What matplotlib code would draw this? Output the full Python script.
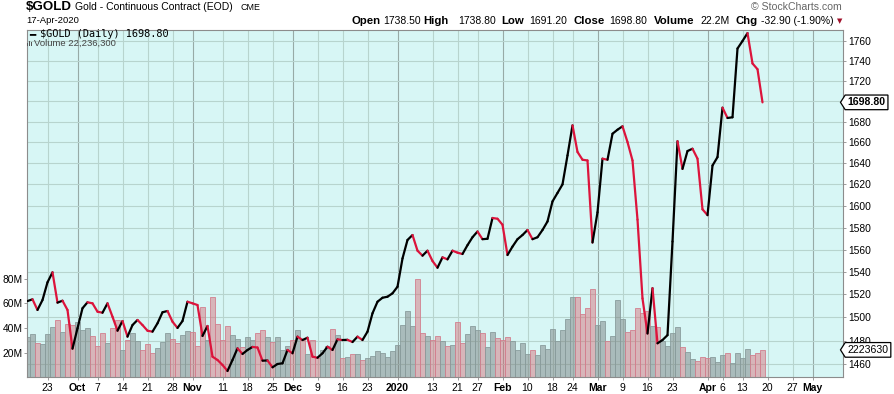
import numpy as np
import pandas as pd
import matplotlib
matplotlib.use("Agg")
import matplotlib.pyplot as plt
from matplotlib.collections import LineCollection
from matplotlib.patches import Rectangle
from matplotlib.path import Path
from matplotlib.transforms import blended_transform_factory
from matplotlib.ticker import NullLocator

plt.rcParams['font.family'] = ['Liberation Sans', 'DejaVu Sans']

# ---------------- data ----------------
symbol = "$GOLD"
title = "Gold - Continuous Contract (EOD)"
exchange = "CME"
as_of = "17-Apr-2020"
start_date = "2019-09-17"
holidays = ["2019-11-28", "2019-12-25", "2020-01-01", "2020-01-20",
            "2020-02-17", "2020-04-10"]

close = [
    1514.2, 1515.7, 1506.4, 1515.1, 1530.7, 1539.6, 1512.8, 1514.5, 1506.4, 1473.0,
    1490.5, 1507.9, 1513.1, 1512.2, 1504.9, 1504.0, 1512.2, 1500.5, 1488.4, 1496.8,
    1483.3, 1493.3, 1497.7, 1493.3, 1488.4, 1487.6, 1494.8, 1504.4, 1505.5, 1496.2,
    1490.8, 1496.8, 1513.6, 1512.2, 1510.7, 1483.9, 1492.5, 1466.2, 1463.4, 1459.2,
    1454.1, 1463.4, 1473.3, 1468.5, 1471.9, 1474.5, 1474.0, 1462.8, 1463.0, 1457.2,
    1460.0, 1460.6, 1471.9, 1469.1, 1483.3, 1480.4, 1482.4, 1466.2, 1465.3, 1469.1,
    1474.7, 1471.9, 1481.0, 1480.4, 1480.6, 1478.7, 1483.3, 1480.4, 1487.6, 1503.5,
    1513.6, 1517.1, 1518.0, 1521.0, 1526.8, 1552.0, 1568.7, 1573.2, 1559.0, 1554.5,
    1559.0, 1549.7, 1543.7, 1553.0, 1551.2, 1559.0, 1557.2, 1556.0, 1564.0, 1571.2,
    1576.4, 1569.4, 1569.8, 1588.8, 1588.1, 1582.6, 1555.1, 1562.7, 1569.4, 1573.2,
    1577.8, 1569.4, 1571.2, 1577.8, 1585.6, 1604.1, 1612.0, 1620.0, 1647.4, 1676.3,
    1650.7, 1643.3, 1642.6, 1566.4, 1594.0, 1644.3, 1643.3, 1668.2, 1672.1, 1675.4,
    1660.2, 1642.6, 1587.3, 1516.5, 1486.0, 1525.5, 1477.6, 1480.4, 1484.6, 1567.3,
    1661.0, 1634.6, 1651.6, 1653.8, 1644.3, 1596.8, 1591.4, 1637.8, 1645.8, 1693.6,
    1683.5, 1684.2, 1752.6, 1760.2, 1768.3, 1737.5, 1731.7, 1698.8,
]

volume_m = [
    32.6, 35.3, 27.7, 26.9, 35.3, 40.7, 46.6, 36.9, 43.4, 42.6,
    44.5, 38.5, 39.9, 33.7, 25.5, 35.8, 27.7, 39.9, 46.6, 22.3,
    30.4, 36.1, 29.6, 22.3, 27.2, 19.6, 23.9, 28.8, 36.1, 31.2,
    27.7, 34.2, 37.7, 36.9, 25.5, 56.9, 30.4, 65.3, 43.4, 30.4,
    41.5, 34.5, 31.0, 24.5, 32.6, 30.4, 36.2, 38.5, 33.0, 28.8,
    33.0, 22.3, 25.5, 30.4, 38.5, 30.4, 19.0, 30.4, 16.0, 22.3,
    25.0, 39.1, 34.5, 15.6, 16.6, 19.1, 19.0, 14.2, 16.0, 17.6,
    21.7, 20.1, 16.8, 21.7, 26.5, 42.6, 54.0, 41.8, 79.6, 36.0,
    33.7, 30.4, 33.7, 29.7, 25.5, 26.4, 44.9, 27.7, 35.1, 41.8,
    38.5, 35.8, 24.5, 36.7, 31.8, 30.4, 32.6, 29.6, 22.3, 27.7,
    18.9, 22.3, 18.3, 26.2, 23.0, 39.1, 29.6, 38.3, 47.3, 65.0,
    65.0, 51.4, 56.1, 71.5, 42.6, 45.3, 29.6, 33.7, 62.7, 47.3,
    36.9, 38.5, 56.1, 52.5, 53.9, 41.5, 40.8, 29.6, 25.5, 35.8,
    40.7, 24.5, 20.4, 15.0, 13.6, 16.4, 15.5, 16.4, 12.8, 17.7,
    19.6, 12.0, 20.1, 15.5, 22.9, 17.7, 19.6, 22.2,
]

open_price = 1738.50
high_price = 1738.80
low_price = 1691.20
last_close = 1698.80
last_volume = 22236300
change = -32.90
change_pct = -1.90

tick_dates = ["2019-09-23", "2019-10-01", "2019-10-07", "2019-10-14", "2019-10-21",
              "2019-10-28", "2019-11-01", "2019-11-11", "2019-11-18", "2019-11-25",
              "2019-12-02", "2019-12-09", "2019-12-16", "2019-12-23", "2020-01-02",
              "2020-01-13", "2020-01-21", "2020-01-27", "2020-02-03", "2020-02-10",
              "2020-02-18", "2020-02-24", "2020-03-02", "2020-03-09", "2020-03-16",
              "2020-03-23", "2020-04-01", "2020-04-06", "2020-04-13", "2020-04-20",
              "2020-04-27", "2020-05-01"]
tick_labels = ["23", "Oct", "7", "14", "21", "28", "Nov", "11", "18", "25",
               "Dec", "9", "16", "23", "2020", "13", "21", "27", "Feb", "10",
               "18", "24", "Mar", "9", "16", "23", "Apr", "6", "13", "20",
               "27", "May"]
major_labels = ["Oct", "Nov", "Dec", "2020", "Feb", "Mar", "Apr", "May"]

price_ticks = list(range(1460, 1761, 20))
volume_ticks = [20, 40, 60, 80]

# ---------------- style ----------------
BG = "#d7f6f5"
GRID = "#b7d4ce"
GRID_MAJOR = "#97aaa6"
RED = "#dc143c"
UP_FILL = (0.45, 0.46, 0.46, 0.45)
DN_FILL = (0.85, 0.40, 0.44, 0.45)
UP_EDGE = "#8a9d9d"
DN_EDGE = "#d2808f"
SPINE = "#8c8c8c"

W, H = 894, 394
fig = plt.figure(figsize=(W / 100, H / 100), dpi=100)
L, R, T, B = 27, 843, 29.5, 377.3
ax_vol = fig.add_axes([L / W, 1 - B / H, (R - L) / W, (B - T) / H])
ax_vol.set_facecolor(BG)
ax_price = ax_vol.twinx()

# trading-day axis
all_days = pd.bdate_range(start_date, "2020-05-29")
all_days = all_days[~all_days.isin(pd.to_datetime(holidays))]
n = len(close)
x = np.arange(n)
tick_pos = [all_days.get_loc(pd.Timestamp(d)) for d in tick_dates]

ax_vol.set_xlim(-0.1, 163.1)
ax_vol.set_ylim(0, 282)
ax_price.set_yscale("log")
ax_price.set_ylim(1448.8, 1772.0)

# grid (under bars)
for p, lab in zip(tick_pos, tick_labels):
    ax_vol.axvline(p, color=GRID_MAJOR if lab in major_labels else GRID,
                   lw=0.8, zorder=0.5)
htrans = blended_transform_factory(ax_vol.transAxes, ax_price.transData)
for p in price_ticks:
    ax_vol.plot([0, 1], [p, p], transform=htrans, color=GRID, lw=0.8, zorder=0.5)

# volume bars
closes = np.array(close)
up = np.concatenate([[True], closes[1:] >= closes[:-1]])
ax_vol.bar(x, volume_m, width=0.95,
           color=[UP_FILL if u else DN_FILL for u in up],
           edgecolor=[UP_EDGE if u else DN_EDGE for u in up],
           linewidth=0.6, zorder=2)

# price line, coloured by direction
segs = np.stack([np.column_stack([x[:-1], closes[:-1]]),
                 np.column_stack([x[1:], closes[1:]])], axis=1)
seg_cols = ["black" if u else RED for u in up[1:]]
lc = LineCollection(segs, colors=seg_cols, linewidths=1.6,
                    capstyle="round", joinstyle="round", zorder=3)
ax_price.add_collection(lc)

# axes ticks
ax_vol.set_xticks(tick_pos)
ax_vol.set_xticklabels(tick_labels)
for t in ax_vol.get_xticklabels():
    t.set_fontsize(7.5)
    if t.get_text() in major_labels:
        t.set_fontweight("bold")
ax_vol.tick_params(axis="x", length=2, width=0.6, color=SPINE, pad=2)

ax_vol.set_yticks(volume_ticks)
ax_vol.set_yticklabels([f"{v}M" for v in volume_ticks], fontsize=7.4)
ax_vol.tick_params(axis="y", length=2, width=0.6, color=SPINE, pad=1)

# the price tag covers the tick label next to the last close
ax_price.set_yticks(price_ticks)
ax_price.set_yticklabels(["" if abs(p - last_close) < 8 else str(p)
                          for p in price_ticks], fontsize=7.4)
ax_price.yaxis.set_minor_locator(NullLocator())
ax_price.tick_params(axis="y", which="major", length=2.5, width=0.6,
                     color=SPINE, pad=1.5)

for sp in ax_vol.spines.values():
    sp.set_color(SPINE)
    sp.set_linewidth(0.8)
for sp in ax_price.spines.values():
    sp.set_visible(False)


# tag shaped box
def tag_box(x0, y0, width, height, mutation_size):
    pad = 0.22 * mutation_size
    x0, y0 = x0 - pad, y0 - pad
    x1, y1 = x0 + width + 2 * pad, y0 + height + 2 * pad
    h = y1 - y0
    verts = [(x0, y0), (x1, y0), (x1, y1), (x0, y1),
             (x0 - 0.32 * h, (y0 + y1) / 2), (x0, y0), (x0, y0)]
    codes = [Path.MOVETO] + [Path.LINETO] * 5 + [Path.CLOSEPOLY]
    return Path(verts, codes)


tx_axes = (847.5 - L) / (R - L)
ax_price.text(tx_axes, last_close, f"{last_close:.2f}",
              transform=blended_transform_factory(ax_price.transAxes, ax_price.transData),
              ha="left", va="center", fontsize=7.6, fontweight="bold",
              bbox=dict(boxstyle=tag_box, fc="white", ec="black", lw=0.9),
              clip_on=False, zorder=10)
ax_price.text(tx_axes, last_volume / 1e6, f"{last_volume // 10}",
              transform=blended_transform_factory(ax_price.transAxes, ax_vol.transData),
              ha="left", va="center", fontsize=7.6,
              bbox=dict(boxstyle=tag_box, fc="white", ec="black", lw=0.9),
              clip_on=False, zorder=10)

# ---------------- header ----------------
def ft(xp, yp, s, **kw):
    kw.setdefault("va", "center")
    kw.setdefault("ha", "left")
    fig.text(xp / W, 1 - yp / H, s, **kw)


ft(26, 7.5, symbol, fontsize=9.6, fontweight="bold")
ft(75, 7.5, title, fontsize=7.5)
ft(240.5, 8, exchange, fontsize=6.4)
ft(26, 20.7, as_of, fontsize=6.8)
ft(842, 7.3, "\u00a9 StockCharts.com", fontsize=7.6, color="#666666", ha="right")

pieces = [(351.7, "Open", True), (383.3, f"{open_price:.2f}", False),
          (423.3, "High", True), (458.0, f"{high_price:.2f}", False),
          (501.7, "Low", True), (529.7, f"{low_price:.2f}", False),
          (573.7, "Close", True), (609.7, f"{last_close:.2f}", False),
          (654.0, "Volume", True), (700.0, f"{last_volume / 1e6:.1f}M", False),
          (736.0, "Chg", True), (760.7, f"{change:.2f} ({change_pct:.2f}%)", False)]
for xp, s, bold in pieces:
    ft(xp, 20.7, s, fontsize=8.2 if bold else 7.5,
       fontweight="bold" if bold else "normal")
ft(839.5, 21.5, "\u25bc", fontsize=5, color="#a0102a", ha="center",
   family="DejaVu Sans")

# legend
ft(29, 34, "\u2501", fontsize=7.5, family="DejaVu Sans Mono")
ft(40, 34, f"{symbol} (Daily) {last_close:.2f}", fontsize=7.4,
   family="DejaVu Sans Mono")
# small volume-bar legend icon
for bx, bh in [(27.0, 3.5), (28.8, 5.5), (30.6, 4.2)]:
    fig.add_artist(Rectangle((bx / W, 1 - 46.3 / H), 1.2 / W, bh / H,
                             transform=fig.transFigure, color="#555555", lw=0))
ft(33.5, 43.3, f"Volume {last_volume:,}", fontsize=6.8, color="#444444")

fig.savefig("out.png", dpi=100)
